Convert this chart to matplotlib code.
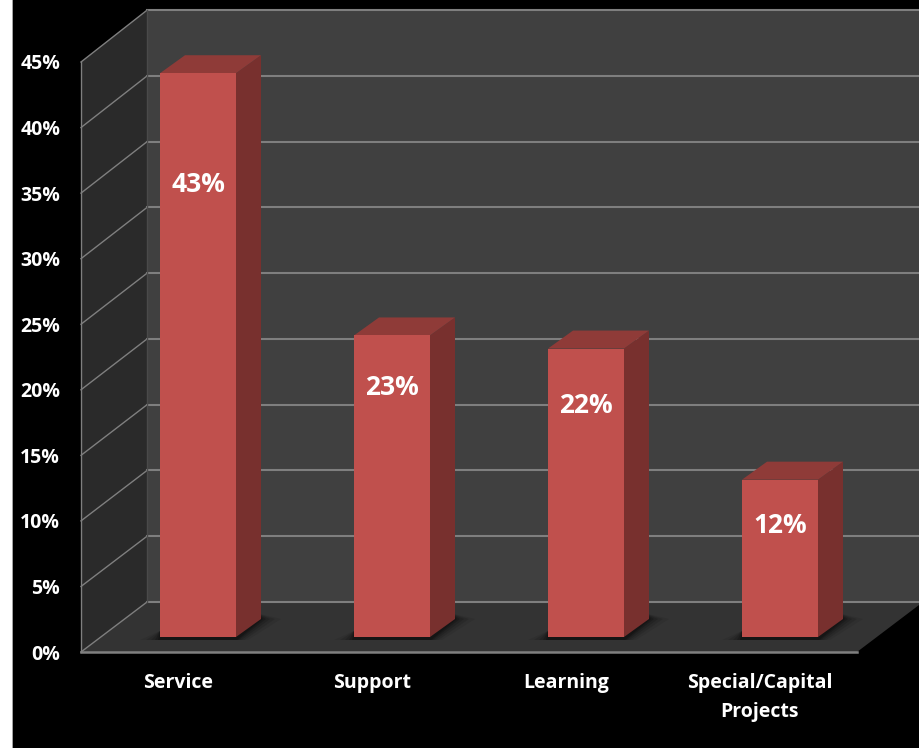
import matplotlib
matplotlib.use("Agg")
import matplotlib.pyplot as plt
from matplotlib.lines import Line2D
from matplotlib.patches import Polygon, Rectangle

categories = ["Service", "Support", "Learning", "Special/Capital\nProjects"]
shares = [43, 23, 22, 12]
value_labels = ["43%", "23%", "22%", "12%"]
y_ticks = [0, 5, 10, 15, 20, 25, 30, 35, 40, 45]
y_tick_labels = ["0%", "5%", "10%", "15%", "20%", "25%", "30%", "35%", "40%", "45%"]

W, H = 920, 748
AX_LEFT, AX_RIGHT, AX_TOP, AX_BOTTOM = 81, 857, 62, 652
X_UNIT = (AX_RIGHT - AX_LEFT) / 4
Y_UNIT = (AX_BOTTOM - AX_TOP) / 45

WALL_DX, WALL_DY = 66, 50       # depth of the box
WALL_STRETCH = 0.04             # back wall rises slightly faster, px per percent
BAR_DX, BAR_DY = 20, 15         # front face of the bars, behind the axis plane
SIDE_DX, SIDE_DY = 25, 18       # depth of each bar
BAR_W = 76 / X_UNIT
LABEL_DROP = [111, 52, 57, 46]  # label centre below the bar top, px

FONT = "Open Sans"
C_FRONT, C_SIDE, C_TOP = "#C0504D", "#78302E", "#8F3B38"
C_BACK, C_LEFT, C_FLOOR, C_GRID = "#404040", "#2A2A2A", "#333333", "#7F7F7F"

fig = plt.figure(figsize=(W / 100, H / 100), dpi=100, facecolor="white")
ax = fig.add_axes([AX_LEFT / W, 1 - AX_BOTTOM / H,
                   (AX_RIGHT - AX_LEFT) / W, (AX_BOTTOM - AX_TOP) / H])
ax.set_xlim(-0.5, 3.5)
ax.set_ylim(0, 45)
ax.patch.set_visible(False)


def pt(x, v, dx=0.0, dy=0.0):
    """Data point pushed back into the box by a depth given in pixels."""
    return (x + dx / X_UNIT, v + dy / Y_UNIT)


def back(x, v):
    """Point on the back wall."""
    return pt(x, v, WALL_DX, WALL_DY + WALL_STRETCH * v)


def poly(points, color, z, alpha=1.0):
    ax.add_patch(Polygon(points, closed=True, facecolor=color, edgecolor="none",
                         alpha=alpha, zorder=z, clip_on=False))


# Black panel behind everything, leaving a white strip on the left
fig.patches.append(Rectangle((13 / W, 0), 1 - 13 / W, 1, transform=fig.transFigure,
                             facecolor="black", edgecolor="none", zorder=-5))
fig.add_artist(Line2D([12.5 / W, 12.5 / W], [0, 1], color="#A0A0A0", lw=0.7, zorder=-4))

x0, x1 = -0.5, 3.5
far = 4.2
# Back wall, left wall and floor
poly([back(x0, 0), back(far, 0), back(far, 45), back(x0, 45)], C_BACK, 1)
poly([pt(x0, 0), back(x0, 0), back(x0, 45), pt(x0, 45)], C_LEFT, 1)
poly([pt(x0, 0), pt(x1, 0), back(x1, 0), back(x0, 0)], C_FLOOR, 1)

# Gridlines wrap from the left wall onto the back wall
for v in y_ticks:
    a, b = pt(x0, v), back(x0, v)
    ax.plot([a[0], b[0]], [a[1], b[1]], color=C_GRID, lw=1.0, zorder=2, clip_on=False)
    c = back(far, v)
    ax.plot([b[0], c[0]], [b[1], c[1]], color=C_GRID, lw=1.5, zorder=2, clip_on=False)

# Corner edges of the box
a, b = back(x0, 0), back(x0, 45)
ax.plot([a[0], b[0]], [a[1], b[1]], color="#4A4A4A", lw=1.0, zorder=2, clip_on=False)

# Bars as three visible faces with a soft shadow on the floor
for i, (share, text) in enumerate(zip(shares, value_labels)):
    left = i - BAR_W / 2
    right = i + BAR_W / 2
    for grow, alpha in [(20, 0.08), (14, 0.11), (9, 0.14), (5, 0.18), (2, 0.22)]:
        poly([pt(left, 0, BAR_DX - grow, BAR_DY - 3),
              pt(right, 0, BAR_DX + grow * 0.6, BAR_DY - 3),
              pt(right, 0, BAR_DX + SIDE_DX + grow, BAR_DY + SIDE_DY),
              pt(right, 0, BAR_DX + SIDE_DX - 5, BAR_DY + SIDE_DY + 6),
              pt(left, 0, BAR_DX, BAR_DY + 6)], "black", 3, alpha)
    poly([pt(right, 0, BAR_DX, BAR_DY), pt(right, 0, BAR_DX + SIDE_DX, BAR_DY + SIDE_DY),
          pt(right, share, BAR_DX + SIDE_DX, BAR_DY + SIDE_DY), pt(right, share, BAR_DX, BAR_DY)],
         C_SIDE, 4)
    poly([pt(left, share, BAR_DX, BAR_DY), pt(right, share, BAR_DX, BAR_DY),
          pt(right, share, BAR_DX + SIDE_DX, BAR_DY + SIDE_DY),
          pt(left, share, BAR_DX + SIDE_DX, BAR_DY + SIDE_DY)], C_TOP, 4)
    ax.bar(i + BAR_DX / X_UNIT, share, width=BAR_W, bottom=BAR_DY / Y_UNIT,
           color=C_FRONT, zorder=5, clip_on=False)
    lx, ly = pt(i, share, BAR_DX, BAR_DY - LABEL_DROP[i])
    ax.text(lx, ly, text, color="white", fontsize=19, fontweight="bold", family=FONT,
            ha="center", va="center", zorder=6, clip_on=False)

# Axes proper: real ticks and the two front edges
ax.set_yticks(y_ticks, y_tick_labels)
ax.set_xticks(range(len(categories)), categories)
ax.tick_params(axis="both", length=0, colors="white")
ax.tick_params(axis="y", pad=15)
ax.tick_params(axis="x", pad=15)
for lab in ax.get_yticklabels() + ax.get_xticklabels():
    lab.set_family(FONT)
    lab.set_fontweight("bold")
    lab.set_fontsize(14)
    lab.set_linespacing(1.6)
for side in ("top", "right"):
    ax.spines[side].set_visible(False)
ax.spines["left"].set_color(C_GRID)
ax.spines["left"].set_linewidth(1.0)
ax.spines["left"].set_zorder(7)
ax.spines["bottom"].set_color(C_GRID)
ax.spines["bottom"].set_linewidth(1.8)
ax.spines["bottom"].set_zorder(7)

fig.savefig("out.png", dpi=100, facecolor=fig.get_facecolor())
